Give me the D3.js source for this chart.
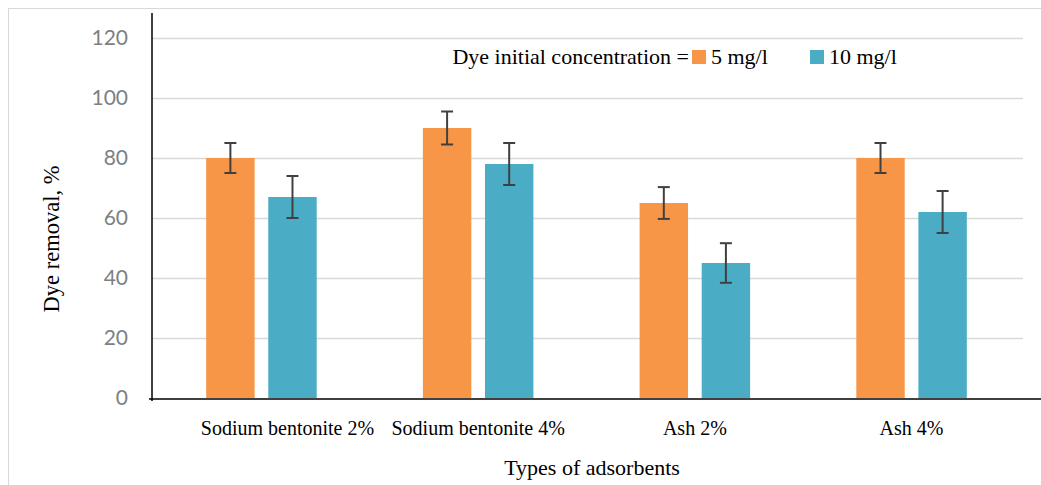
<!DOCTYPE html>
<html>
<head>
<meta charset="utf-8">
<script src="https://cdn.jsdelivr.net/npm/d3@7"></script>
<style>
  body { margin: 0; background: #fff; }
  svg { display: block; }
</style>
</head>
<body>
<div class="chart"></div>
<script>
var categories = ["Sodium bentonite 2%", "Sodium bentonite 4%", "Ash 2%", "Ash 4%"];
var seriesNames = ["5 mg/l", "10 mg/l"];
var values5 = [80, 90, 65, 80];
var values10 = [67, 78, 45, 62];
var errors5 = [5, 5.5, 5.3, 5];
var errors10 = [7, 7, 6.6, 7];
var yTicks = [0, 20, 40, 60, 80, 100, 120];

var width = 1041, height = 485;
var margin = ({ top: 38, right: 20, bottom: 87, left: 152 });
var colors = ["#F79646", "#4BACC6"];

var data = categories.map((c, i) => ({
  cat: c,
  vals: [
    { s: seriesNames[0], v: values5[i], e: errors5[i], k: 0 },
    { s: seriesNames[1], v: values10[i], e: errors10[i], k: 1 }
  ]
}));

var svg = d3.select(".chart").append("svg")
  .attr("width", width)
  .attr("height", height);

// outer frame of the chart area
svg.append("rect")
  .attr("x", 8.5).attr("y", 8.5)
  .attr("width", 1200).attr("height", 600)
  .attr("fill", "none")
  .attr("stroke", "#d9d9d9");

var y = d3.scaleLinear()
  .domain([0, 120])
  .range([height - margin.bottom, margin.top]);

var x0 = d3.scaleBand()
  .domain(categories)
  .range([margin.left, width - margin.right])
  .paddingInner(0.49)
  .paddingOuter(0.25);

var x1 = d3.scaleBand()
  .domain(seriesNames)
  .range([0, x0.bandwidth()])
  .paddingInner(0.22);

// gridlines
svg.append("g")
  .selectAll("line")
  .data(yTicks.filter(d => d > 0))
  .enter().append("line")
  .attr("x1", margin.left)
  .attr("x2", width - margin.right + 2)
  .attr("y1", d => y(d) + 0.5)
  .attr("y2", d => y(d) + 0.5)
  .attr("stroke", "#d9d9d9")
  .attr("stroke-width", 1.5);

// y tick labels
var yAxis = svg.append("g")
  .attr("transform", "translate(" + margin.left + ",0)")
  .call(d3.axisLeft(y).tickValues(yTicks).tickSize(0).tickPadding(24));
yAxis.select(".domain").remove();
yAxis.selectAll("text")
  .attr("font-family", "Lato, 'Open Sans', sans-serif")
  .attr("font-size", "21px")
  .attr("fill", "#808080");

// bars
var groups = svg.append("g")
  .selectAll("g")
  .data(data)
  .enter().append("g")
  .attr("transform", d => "translate(" + x0(d.cat) + ",0)");

groups.selectAll("rect")
  .data(d => d.vals)
  .enter().append("rect")
  .attr("x", d => x1(d.s))
  .attr("y", d => y(d.v))
  .attr("width", x1.bandwidth())
  .attr("height", d => y(0) - y(d.v))
  .attr("fill", d => colors[d.k]);

// error bars
var eb = groups.selectAll(".err")
  .data(d => d.vals)
  .enter().append("g")
  .classed("err", true)
  .attr("transform", d => "translate(" + (x1(d.s) + x1.bandwidth() / 2) + ",0)");
eb.append("line")
  .attr("y1", d => y(d.v + d.e)).attr("y2", d => y(d.v - d.e))
  .attr("stroke", "#404040").attr("stroke-width", 2);
eb.append("line")
  .attr("x1", -6).attr("x2", 6)
  .attr("y1", d => y(d.v + d.e)).attr("y2", d => y(d.v + d.e))
  .attr("stroke", "#404040").attr("stroke-width", 2);
eb.append("line")
  .attr("x1", -6).attr("x2", 6)
  .attr("y1", d => y(d.v - d.e)).attr("y2", d => y(d.v - d.e))
  .attr("stroke", "#404040").attr("stroke-width", 2);

// axis lines
svg.append("line")
  .attr("x1", margin.left).attr("x2", margin.left)
  .attr("y1", 13).attr("y2", y(0) + 3)
  .attr("stroke", "#000").attr("stroke-width", 1.5);
svg.append("line")
  .attr("x1", margin.left - 3).attr("x2", width)
  .attr("y1", y(0) + 1).attr("y2", y(0) + 1)
  .attr("stroke", "#000").attr("stroke-width", 1.5);

// category labels
svg.append("g")
  .selectAll("text")
  .data(categories)
  .enter().append("text")
  .attr("x", (d, i) => x0(d) + x0.bandwidth() / 2 + (i == 0 ? 26 : 0))
  .attr("y", y(0) + 37)
  .attr("text-anchor", "middle")
  .attr("font-family", "'Liberation Serif', 'Times New Roman', serif")
  .attr("font-size", "20px")
  .attr("fill", "#000")
  .text(d => d);

// axis titles
svg.append("text")
  .attr("x", 592)
  .attr("y", y(0) + 77)
  .attr("text-anchor", "middle")
  .attr("font-family", "'Liberation Serif', 'Times New Roman', serif")
  .attr("font-size", "22px")
  .text("Types of adsorbents");

svg.append("text")
  .attr("transform", "translate(59," + 239 + ") rotate(-90)")
  .attr("text-anchor", "middle")
  .attr("font-family", "'Liberation Serif', 'Times New Roman', serif")
  .attr("font-size", "22.5px")
  .text("Dye removal, %");

// legend
var legend = svg.append("g").attr("transform", "translate(0,57)");
legend.append("text")
  .attr("x", 689)
  .attr("y", 7)
  .attr("text-anchor", "end")
  .attr("font-family", "'Liberation Serif', 'Times New Roman', serif")
  .attr("font-size", "22px")
  .text("Dye initial concentration =");
var legendX = [692, 810];
seriesNames.forEach(function (s, i) {
  legend.append("rect")
    .attr("x", legendX[i]).attr("y", -7)
    .attr("width", 14).attr("height", 14)
    .attr("fill", colors[i]);
  legend.append("text")
    .attr("x", legendX[i] + 19)
    .attr("y", 7)
    .attr("font-family", "'Liberation Serif', 'Times New Roman', serif")
    .attr("font-size", "22px")
    .text(s);
});
</script>
</body>
</html>
